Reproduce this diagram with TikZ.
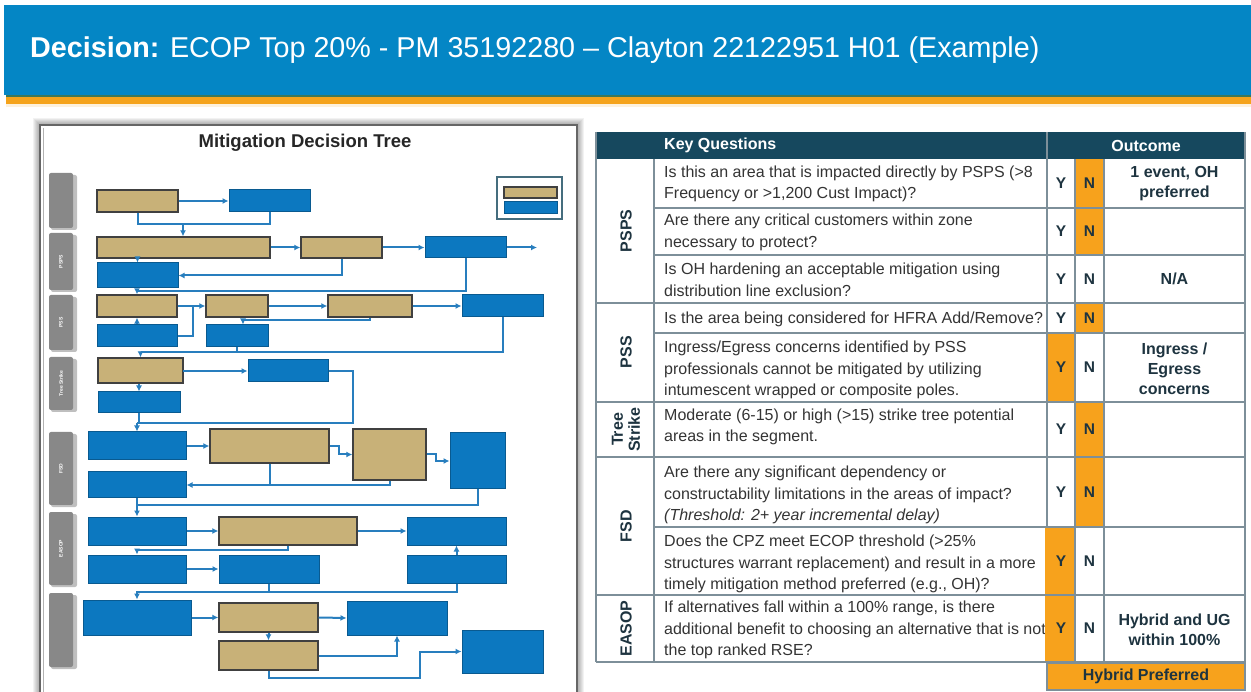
\documentclass[tikz,border=0pt]{standalone}
\usepackage{fontspec}
\setmainfont{Liberation Sans}
\usetikzlibrary{arrows.meta,fit,calc}
\definecolor{hdrblue}{RGB}{4,134,197}
\definecolor{hdrgreen}{RGB}{60,120,90}
\definecolor{hdrorange}{RGB}{245,163,27}
\definecolor{navy}{RGB}{22,72,94}
\definecolor{gridc}{RGB}{125,143,153}
\definecolor{orangec}{RGB}{247,162,28}
\definecolor{txt}{RGB}{52,52,52}
\definecolor{cattxt}{RGB}{30,52,64}
\definecolor{fblue}{RGB}{12,120,192}
\definecolor{ftan}{RGB}{200,177,120}
\definecolor{fline}{RGB}{40,126,190}
\definecolor{tabgray}{RGB}{136,136,136}
\newcommand{\fcb}[6]{\node[#1, fit={(#3,#4) (#5,#6)}] (#2) {};}
\begin{document}
\begin{tikzpicture}[x=1pt,y=-1pt,
  bbox/.style={draw=fblue!75!black, fill=fblue, line width=1pt, inner sep=0pt},
  tbox/.style={draw=black!75, fill=ftan, line width=1.4pt, inner sep=0pt},
  lanetab/.style={fill=tabgray, rounded corners=2pt, inner sep=0pt},
  lanelbl/.style={rotate=90, text=white, font=\bfseries\fontsize{5}{5.5}\selectfont, align=center},
  ln/.style={draw=fline, line width=2pt},
  arr/.style={ln, -{Latex[length=6pt,width=6pt]}},
  qtext/.style={anchor=west, align=left, text=txt, inner sep=0pt, font=\fontsize{16}{21.5}\selectfont},
  yn/.style={text=cattxt, inner sep=0pt, font=\bfseries\fontsize{15.5}{16}\selectfont},
  outc/.style={text=cattxt, align=center, inner sep=0pt, font=\bfseries\fontsize{16}{20}\selectfont},
  cat/.style={rotate=90, text=cattxt, align=center, inner sep=0pt, font=\bfseries\fontsize{16}{17}\selectfont},
  grid/.style={draw=gridc, line width=1.4pt}
]
\useasboundingbox (0,0) rectangle (1251,692);
\fill[white] (0,0) rectangle (1251,692);
% ---------- header ----------
\fill[hdrblue] (4,5) rectangle (1251,95.5);
\fill[hdrgreen] (6,95.5) rectangle (1251,97);
\fill[hdrorange] (6,97) rectangle (1251,104.5);
\fill[hdrorange!15] (6,104.5) rectangle (1251,107);
\node[anchor=base west, text=white, inner sep=0pt, font=\fontsize{28.7}{31}\selectfont] (title) at (30,58)
  {\textbf{Decision:} ECOP Top 20\% - PM 35192280 – Clayton 22122951 H01 (Example)};
% ---------- flowchart frame ----------
\foreach \i in {1,...,7} {\fill[black, opacity=0.05] (40-\i,125-\i) rectangle (577+\i,700);}
\draw[fill=white, draw=black!60, line width=2pt] (40,125) rectangle (577,700);
\draw[black!30, line width=0.8pt] (43,128) -- (43,700);
\node[font=\bfseries\fontsize{18.5}{20}\selectfont, text=black!85] (ftitle) at (305,143) {Mitigation Decision Tree};
% lane tabs
\foreach \a/\b/\n in {173/228/L1,233/290/L2,295/350/L3,357/410/L4,432/505/L5,512/585/L6,593/667/L7} {
  \fill[black, opacity=0.25, rounded corners=2pt] (51,\a+2) rectangle (77,\b+2);
  \fcb{lanetab}{\n}{49}{\a}{73}{\b}
}
\node[lanelbl] at (L2) {PSPS};
\node[lanelbl] at (L3) {PSS};
\node[lanelbl] at (L4) {Tree Strike};
\node[lanelbl] at (L5) {FSD};
\node[lanelbl] at (L6) {EASOP};
% legend
\draw[draw=navy!80, line width=1.2pt, fill=white] (497,177) rectangle (562,219);
\fcb{tbox}{LT}{504}{187}{557}{198}
\fcb{bbox}{LB}{504}{202}{557}{214}
% boxes
\fcb{tbox}{T1}{97}{190}{178}{212}
\fcb{bbox}{B1}{229}{190}{310}{212}
\fcb{tbox}{T2}{97}{237}{270}{258}
\fcb{tbox}{T3}{301}{237}{382}{258}
\fcb{bbox}{B2}{425}{237}{506}{258}
\fcb{bbox}{B3}{97}{263}{178}{288}
\fcb{tbox}{T4}{97}{295}{177}{317}
\fcb{tbox}{T5}{206}{295}{268}{317}
\fcb{tbox}{T6}{328}{295}{412}{317}
\fcb{bbox}{B4}{462}{295}{543}{317}
\fcb{bbox}{B5}{97}{325}{177}{347}
\fcb{bbox}{B6}{206}{325}{268}{347}
\fcb{tbox}{T7}{98}{358}{183}{383}
\fcb{bbox}{B7}{248}{360}{328}{382}
\fcb{bbox}{B8}{98}{392}{180}{413}
\fcb{bbox}{B9}{88}{432}{186}{460}
\fcb{tbox}{T8}{210}{429}{329}{463}
\fcb{tbox}{T9}{353}{429}{426}{480}
\fcb{bbox}{B10}{450}{433}{505}{489}
\fcb{bbox}{B11}{88}{472}{186}{498}
\fcb{bbox}{B12}{88}{517}{186}{545}
\fcb{tbox}{T10}{219}{517}{357}{545}
\fcb{bbox}{B13}{407}{517}{506}{545}
\fcb{bbox}{B14}{88}{555}{186}{583}
\fcb{bbox}{B15}{219}{555}{319}{583}
\fcb{bbox}{B16}{407}{555}{506}{583}
\fcb{bbox}{B17}{83}{600}{191}{635}
\fcb{tbox}{T11}{219}{603}{318}{632}
\fcb{bbox}{B18}{347}{601}{447}{635}
\fcb{tbox}{T12}{219}{641}{318}{670}
\fcb{bbox}{B19}{462}{630}{543}{673}
% connectors
\coordinate (j1) at (183,224);
\coordinate (o1) at (537,247.5);
\coordinate (j2) at (137,291);
\coordinate (j3) at (193,306);
\coordinate (j4) at (243,320);
\coordinate (j5) at (140.5,352);
\coordinate (k6) at (353,423);
\coordinate (j6) at (137,423);
\coordinate (j7) at (137,505);
\coordinate (j8) at (137,550);
\coordinate (j9) at (137,592);
\coordinate (k9) at (420,678);
\draw[arr] (T1.east) -- (B1.west);
\draw[ln] (T1.south) |- (j1) -| (B1.south);
\draw[arr] (j1) -- (T2.north -| j1);
\draw[arr] (T2.east) -- (T3.west);
\draw[arr] (T3.east) -- (B2.west);
\draw[arr] (B2.east) -- (o1);
\draw[arr] (T3.south) |- (B3.east);
\draw[arr] (T2.south -| B3.north) -- (B3.north);
\draw[arr] (B2.south) |- (j2) -- (T4.north -| j2);
\draw[arr] (T4.east) -- (T5.west);
\draw[ln] (B5.east) -| (j3);
\draw[arr] (B5.north) -- (T4.south);
\draw[arr] (T5.east) -- (T6.west);
\draw[arr] (T6.east) -- (B4.west);
\draw[ln] (T6.south) |- (j4);
\draw[arr] (j4) -- (j4 |- B6.north);
\draw[arr] (B4.south) |- (j5) -- (T7.north);
\draw[ln] (B6.south) -- (B6.south |- j5);
\draw[arr] (T7.east) -- (B7.west -| T7.east) -- (B7.west);
\draw[arr] (T7.south -| B8.north) -- (B8.north);
\draw[ln] (B7.east) -| (k6) -- (j6);
\draw[arr] (j6) -- (B9.north);
\draw[ln] (B8.south) -- (B8.south |- j6);
\draw[arr] (B9.east) -- (T8.west);
\draw[arr] (T8.east) -- ++(9,0) |- (T9.west);
\draw[arr] (T9.east) -- ++(9,0) |- (B10.west);
\draw[arr] (T8.south) |- (B11.east);
\draw[ln] (T9.south) |- (T8.south |- B11.east);
\draw[arr] (B10.south) |- (j7) -- (B12.north);
\draw[ln] (B11.south) -- (j7);
\draw[arr] (B12.east) -- (T10.west);
\draw[arr] (T10.east) -- (B13.west);
\draw[arr] (T10.south) |- (j8) -- (B14.north);
\draw[arr] (B14.east) -- (B15.west);
\draw[arr] (B16.north) -- (B13.south);
\draw[arr] (B15.south) |- (j9) -- (B17.north);
\draw[ln] (B16.south) |- (B15.south |- j9);
\draw[arr] (B17.east) -- (T11.west);
\draw[arr] (T11.east) -- (B18.west);
\draw[arr] (T11.south) -- (T12.north);
\draw[arr] (T12.east) -| (B18.south);
\draw[arr] (T12.south) |- (k9) |- (B19.west);
% ---------- table ----------
% header
\fill[navy] (596,132) rectangle (1245,159);
\node[anchor=west, text=white, inner sep=0pt, font=\bfseries\fontsize{16}{17}\selectfont] (kq) at (664,145.5) {Key Questions};
\node[text=white, inner sep=0pt, font=\bfseries\fontsize{16}{17}\selectfont] (oc) at (1146,145.5) {Outcome};
% questions
\node[qtext] (q1) at (664,184) {Is this an area that is impacted directly by PSPS (>8\\Frequency or >1,200 Cust Impact)?};
\node[qtext] (q2) at (664,232.5) {Are there any critical customers within zone\\necessary to protect?};
\node[qtext] (q3) at (664,280) {Is OH hardening an acceptable mitigation using\\distribution line exclusion?};
\node[qtext] (q4) at (664,319) {Is the area being considered for HFRA Add/Remove?};
\node[qtext] (q5) at (664,370) {Ingress/Egress concerns identified by PSS\\professionals cannot be mitigated by utilizing\\intumescent wrapped or composite poles.};
\node[qtext] (q6) at (664,427) {Moderate (6-15) or high (>15) strike tree potential\\areas in the segment.};
\node[qtext] (q7) at (664,495) {Are there any significant dependency or\\constructability limitations in the areas of impact?\\\textit{(Threshold: 2+ year incremental delay)}};
\node[qtext] (q8) at (664,564) {Does the CPZ meet ECOP threshold (>25\%\\structures warrant replacement) and result in a more\\timely mitigation method preferred (e.g., OH)?};
\node[qtext] (q9) at (664,630) {If alternatives fall within a 100\% range, is there\\additional benefit to choosing an alternative that is not\\the top ranked RSE?};
% orange cells
\fill[orangec] (1075,159) rectangle (1104,255);
\fill[orangec] (1075,303) rectangle (1104,333);
\fill[orangec] (1047,333) rectangle (1075,402);
\fill[orangec] (1075,402) rectangle (1104,527);
\fill[orangec] (1045,527) rectangle (1075,662);
% grid
\draw[grid] (654,208) -- (1245,208);
\draw[grid] (654,255) -- (1245,255);
\draw[grid] (596,303) -- (1245,303);
\draw[grid] (654,333) -- (1245,333);
\draw[grid] (596,402) -- (1245,402);
\draw[grid] (596,457) -- (1245,457);
\draw[grid] (654,527) -- (1245,527);
\draw[grid] (596,595) -- (1245,595);
\draw[grid] (596,662) -- (1245,662);
\draw[grid] (596,159) -- (596,662);
\draw[grid] (654,159) -- (654,662);
\draw[grid] (1047,132) -- (1047,527);
\draw[grid] (1075,159) -- (1075,662);
\draw[grid] (1104,159) -- (1104,662);
\draw[grid] (1245,132) -- (1245,662);
\draw[grid] (596,132) -- (596,159);
% Y / N
\foreach \yy/\nm in {183.5/1,231.5/2,279/3,318/4,367.5/5,429.5/6,492/7,561/8,628.5/9} {
  \node[yn] (y\nm) at (1061,\yy) {Y};
  \node[yn] (n\nm) at (1089.5,\yy) {N};
}
% outcomes
\node[outc] (oc1) at (1174.5,184) {1 event, OH\\preferred};
\node[outc] (oc3) at (1174.5,279) {N/A};
\node[outc] (oc5) at (1174.5,369) {Ingress /\\Egress\\concerns};
\node[outc] (oc9) at (1174.5,630) {Hybrid and UG\\within 100\%};
% categories
\node[cat] (c1) at (626,231) {PSPS};
\node[cat] (c2) at (626,352) {PSS};
\node[cat] (c3) at (626,429.5) {Tree\\Strike};
\node[cat] (c4) at (626,526) {FSD};
\node[cat] (c5) at (626,628.5) {EASOP};
% hybrid preferred
\draw[fill=orangec, draw=gridc, line width=1.2pt] (1047,663) rectangle (1245,690);
\node[text=cattxt, inner sep=0pt, font=\bfseries\fontsize{16}{17}\selectfont] (hp) at (1146,676.5) {Hybrid Preferred};
\end{tikzpicture}
\end{document}
